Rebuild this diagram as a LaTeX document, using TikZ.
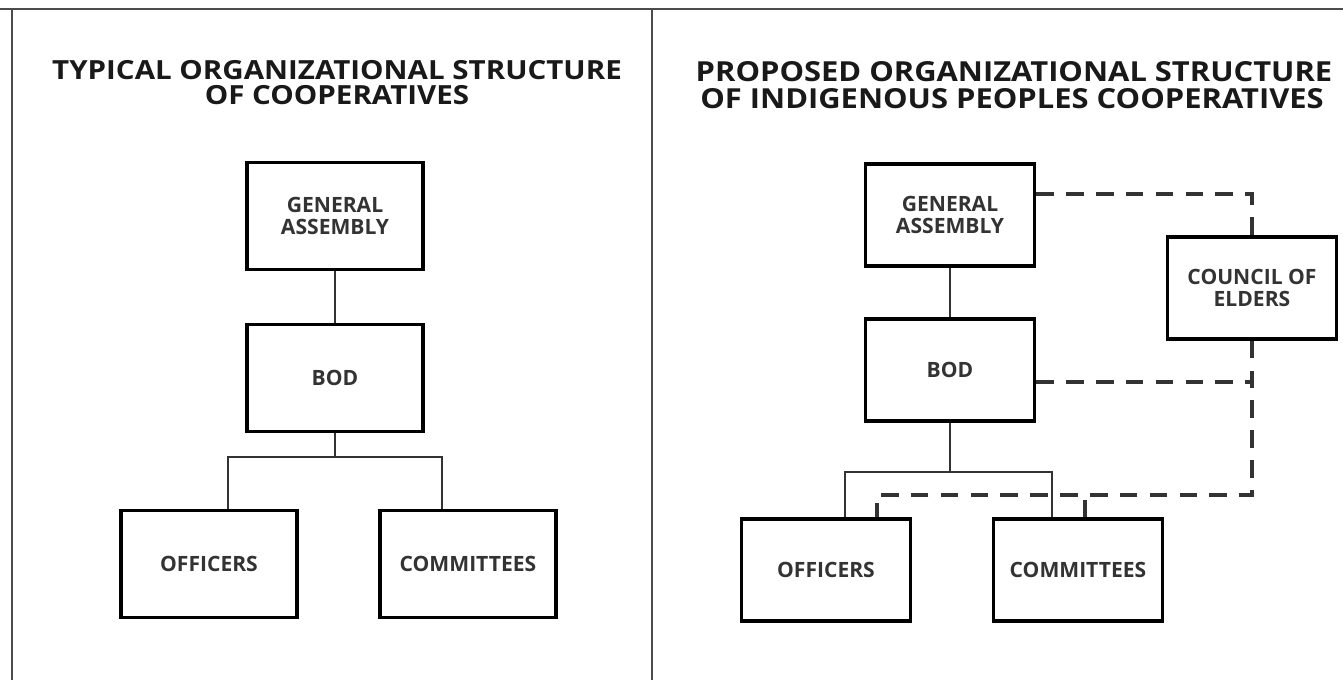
\documentclass[tikz,border=0pt]{standalone}
\usepackage{fontspec}
\setmainfont{Open Sans}
\newfontfamily\titlefont{Open Sans}[FakeStretch=1.12]
\usetikzlibrary{calc}
\tikzstyle{unit} = [draw, line width=2pt, text=black!80, align=center, inner sep=0pt,
	font=\bfseries\fontsize{12}{13}\selectfont]
\tikzstyle{bigunit} = [unit, minimum width=3.52cm, minimum height=2.14cm]
\tikzstyle{smallunit} = [unit, minimum width=3.38cm, minimum height=2.04cm]
\tikzstyle{link} = [line width=1.1pt, black!80]
\tikzstyle{elderlink} = [line width=2.2pt, black!80, dash pattern=on 10pt off 7pt]
\tikzstyle{heading} = [inner sep=0pt, text height=11pt, text depth=0pt, text=black!90]
\tikzstyle{frame} = [line width=1pt, black!70]

\begin{document}
\begin{tikzpicture}[x=0.02cm, y=-0.02cm]
			\useasboundingbox (0,0) rectangle (1343,680);
			% frame
			\draw [frame] (0,9) -- (1343,9);
			\draw [frame] (12,9) -- (12,680);
			\draw [frame] (652,9) -- (652,680);
			
			% typical structure
			\node [heading, font=\titlefont\bfseries\fontsize{15}{16}\selectfont] (T1a) at (337,70) {TYPICAL ORGANIZATIONAL STRUCTURE};
			\node [heading, font=\titlefont\bfseries\fontsize{15}{16}\selectfont] (T1b) at (337,95) {OF COOPERATIVES};
			\node [bigunit] (GA)  at (335,216) {GENERAL\\ASSEMBLY};
			\node [bigunit] (BOD) at (335,378) {BOD};
			\node [bigunit] (OFF) at (209,564) {OFFICERS};
			\node [bigunit] (COM) at (468,564) {COMMITTEES};
			\coordinate (J) at (335,457);
			\draw [link] (GA) -- (BOD);
			\draw [link] (BOD) -- (J);
			\draw [link] ([xshift=0.38cm]OFF.north) |- (J) -| ([xshift=-0.52cm]COM.north);
			
			% proposed structure
			\node [heading, font=\titlefont\bfseries\fontsize{15.7}{16}\selectfont] (T2a) at (1014,72) {PROPOSED ORGANIZATIONAL STRUCTURE};
			\node [heading, font=\titlefont\bfseries\fontsize{15.7}{16}\selectfont] (T2b) at (1012,99) {OF INDIGENOUS PEOPLES COOPERATIVES};
			\node [smallunit] (GA2)  at (950,215)  {GENERAL\\ASSEMBLY};
			\node [smallunit] (BOD2) at (950,370)  {BOD};
			\node [smallunit] (CE)   at (1252,288) {COUNCIL OF\\ELDERS};
			\node [smallunit] (OFF2) at (826,570)  {OFFICERS};
			\node [smallunit] (COM2) at (1078,570) {COMMITTEES};
			\coordinate (J2) at (950,472);
			\coordinate (D) at (1252,495);
			\coordinate (B2) at ([yshift=-0.24cm]BOD2.east);
			\coordinate (C2) at ([xshift=0.14cm]COM2.north);
			\draw [link] (GA2) -- (BOD2);
			\draw [link] (BOD2) -- (J2);
			\draw [link] ([xshift=0.38cm]OFF2.north) |- (J2) -| ([xshift=-0.52cm]COM2.north);
			\draw [elderlink] ([yshift=0.42cm]GA2.east) -| (CE.north);
			\draw [elderlink] (CE.south) -- (D) -| ([xshift=1.02cm]OFF2.north);
			\draw [elderlink] (B2) -- (B2 -| CE.south);
			\draw [elderlink] (C2) -- (C2 |- D);
			
\end{tikzpicture}
\end{document}
